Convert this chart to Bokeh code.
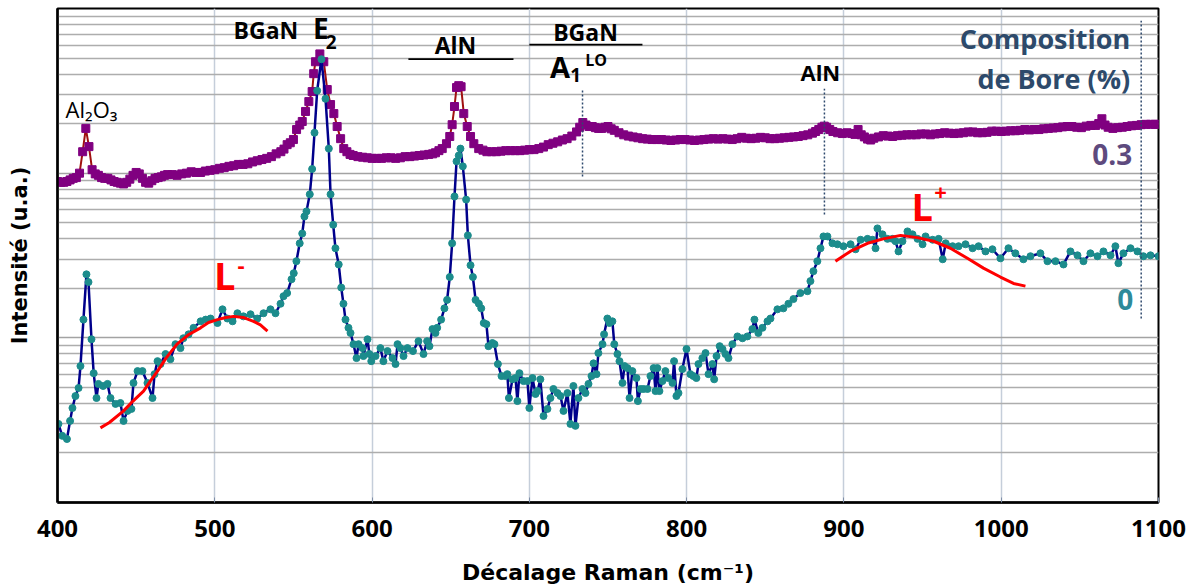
from bokeh.plotting import figure
from bokeh.models import Range1d, FixedTicker, Label
from bokeh.embed import file_html
from bokeh.resources import INLINE

# ---------------- data ----------------
# Sample with 0.3 % boron (purple squares)
shift_03 = [400, 402, 404, 406, 408, 410, 412, 414, 416, 418, 420, 422, 424, 426, 428, 430, 432, 434, 436, 438,
            440, 442, 444, 446, 448, 450, 452, 454, 456, 458, 460, 462, 464, 466, 468, 470, 473, 476, 479, 482,
            485, 488, 491, 494, 497, 500, 503, 506, 509, 512, 515, 518, 521, 524, 527, 530, 533, 536, 539, 542,
            544, 546, 548, 550, 552, 554, 555.6, 557.7, 559.8, 561.9, 562.9, 564, 566.8, 569.3, 571.5, 573.6,
            575.7, 577.8, 580, 582, 584, 586, 588, 591, 594, 597, 600, 603, 606, 609, 612, 615, 618, 621, 624,
            627, 630, 633, 636, 638.5, 640.3, 642.5, 644.6, 647.3, 649.4, 650.9, 652.4, 653.7, 655.1, 656.6,
            658.3, 660.5, 662.6, 664.7, 667.8, 670.5, 673, 676, 679, 682, 685, 688, 691, 694, 697, 700, 703,
            706, 709, 712, 715, 718, 721, 724, 727, 730, 732, 734, 736, 738, 740, 742, 744, 746, 748, 750, 752,
            754, 757, 760, 763, 766, 769, 772, 775, 778, 781, 784, 787, 790, 793, 796, 799, 802, 805, 808, 811,
            814, 817, 820, 823, 826, 829, 832, 835, 838, 841, 844, 847, 850, 853, 856, 859, 862, 865, 868, 871,
            874, 877, 880, 882, 884, 886, 887.5, 889, 891, 893, 896, 899, 902, 905, 907, 909, 911, 913, 915, 917,
            919, 922, 925, 928, 931, 934, 937, 940, 943, 946, 949, 952, 955, 958, 961, 964, 967, 970, 973, 976,
            979, 982, 985, 988, 991, 994, 997, 1000, 1003, 1006, 1009, 1012, 1015, 1018, 1021, 1024, 1027, 1030,
            1033, 1036, 1039, 1042, 1045, 1048, 1051, 1054, 1057, 1060, 1062, 1064, 1066, 1068, 1071, 1074, 1077,
            1080, 1083, 1086, 1089, 1092, 1095, 1098, 1100]
int_03 = [89, 88, 88, 89, 91, 93, 94, 100, 135, 187, 145, 105, 99, 97, 94, 93, 93, 91, 89, 88,
          87, 86, 88, 92, 97, 101, 99, 93, 88, 87, 90, 93, 94, 95, 97, 98, 98, 97, 99, 100,
          102, 101, 101, 103, 104, 105, 107, 108, 110, 111, 113, 113, 114, 117, 119, 121, 123, 126, 131, 135,
          140, 149, 153, 160, 184, 196, 206, 237, 272, 313, 402, 475, 530, 475, 322, 261,
          230, 192, 162, 141, 135, 130, 128, 126, 125, 124, 123, 123, 123, 124, 124, 123, 124, 126, 126,
          127, 128, 129, 130, 131, 133, 137, 141, 151, 167, 197, 254, 331, 340, 335,
          230, 192, 167, 151, 141, 138, 135, 135, 135, 136, 137, 137, 137, 137, 138, 139, 139,
          141, 144, 149, 152, 155, 159, 162, 168, 178, 190, 203, 196, 192, 192, 189, 187, 187, 190, 192, 186,
          182, 176, 171, 168, 166, 164, 162, 161, 160, 160, 160, 159, 158, 159, 160, 160, 159, 158, 159, 160,
          161, 162, 161, 162, 161, 160, 162, 165, 163, 162, 163, 165, 164, 162, 162, 163, 164, 165, 166, 167,
          169, 171, 175, 179, 184, 190, 193, 190, 184, 179, 176, 174, 176, 174, 172, 184, 171, 166, 161, 159,
          163, 166, 169, 168, 167, 169, 170, 171, 171, 171, 173, 173, 171, 173, 174, 176, 175, 174, 175, 176,
          178, 178, 176, 176, 177, 180, 180, 179, 180, 181, 181, 182, 184, 183, 184, 184, 186, 187,
          188, 189, 191, 192, 192, 190, 189, 193, 195, 195, 200, 214, 196, 190, 187, 189, 190,
          192, 194, 195, 197, 198, 198, 198, 198]

# Reference sample, 0 % boron (teal dots)
shift_0 = [400.6, 403, 406, 408, 409.5, 411.4, 413.4, 414.6, 416.5, 418.4, 419.7, 421.6, 423, 424.8, 426, 429,
           431.8, 433.7, 436.9, 440, 442, 444.5, 447, 448.3, 450.9, 454, 457.2, 460.4, 461.7, 463.6, 465.5,
           468.7, 471.8, 475, 478.2, 480, 483.3, 486.5, 491, 494.2, 497.3, 501.7, 504.9, 508, 511.3, 514.4,
           518.2, 522.7, 527, 531, 535.4, 538.6, 541.8, 543.7, 546, 548.8, 550.2, 551.9, 554, 555.6, 557,
           558.3, 560.4, 561.9, 563.4, 565.1, 567.8, 570.4, 572.5, 573.6, 575.3, 576.7, 578.8, 580.4, 581.8,
           583.1, 585, 586.3, 588.2, 590.1, 591.4, 593.9, 594.5, 597.1, 598.3, 599.5, 602.2, 605.3, 607.2,
           609.8, 613, 614.9, 616.2, 618, 620, 622.5, 626, 629.5, 632.7, 635, 636.5, 638.4, 640.3, 641.4,
           643.9, 646, 647.7, 649.4, 650.9, 652.4, 653.7, 655.1, 656.2, 657.7, 659.8, 660.9, 662.6, 664.1,
           665.8, 667.9, 669.4, 671, 672.7, 674, 676.5, 677.8, 680, 682.3, 684.8, 686, 687, 689.3, 691.2,
           692.4, 693.7, 696.3, 698.8, 700, 702, 703.9, 705.2, 707, 709, 711.5, 713.4, 715.3, 717.9, 719.8,
           721.7, 724.2, 726.1, 728, 729.3, 731.2, 733.8, 735.7, 737.6, 739.5, 740.8, 742.7, 743.9, 746.5,
           747.5, 749.6, 750.9, 752.8, 754, 756, 757.3, 759.2, 760.5, 762.4, 763.7, 765.5, 768.1, 769, 770.7,
           772.6, 775.1, 777, 779, 780.2, 781.4, 782.7, 784.6, 786.5, 788.4, 791, 792, 793.5, 794.8, 797.3,
           799.9, 802.4, 804.3, 806.2, 807.5, 810, 812, 813.9, 816.4, 817.5, 819, 821, 822.8, 824.7, 826.6,
           829.1, 832.3, 835.5, 838.6, 841.8, 843.1, 845.6, 848.2, 851.4, 853.3, 857.7, 861.5, 864.7, 867.9,
           872.3, 876.8, 878.7, 880.6, 883.1, 885.1, 887, 889.5, 892.7, 895.9, 899.7, 904.2, 907.4, 910.6,
           915, 918.2, 920.1, 921.3, 924.5, 927.7, 930.9, 932.8, 934.7, 937.2, 940.4, 943.6, 946.8, 950,
           951.9, 956.4, 960.2, 962.8, 964.7, 969.1, 972.9, 977.3, 981.8, 985.6, 990, 994.4, 999.5, 1004.6,
           1009, 1014.1, 1018.6, 1024.9, 1029.4, 1034.5, 1039.6, 1044, 1048.5, 1052.3, 1056.7, 1061.2, 1065,
           1069.5, 1072.6, 1074.5, 1077.7, 1082.2, 1086.6, 1090.4, 1094.9, 1100]
int_0 = [3.0, 2.54, 2.43, 3.13, 3.75, 4.43, 4.96, 6.74, 12.9, 24.3, 21.8, 9.8, 6.1, 4.31, 5.25, 5.10,
         5.25, 4.31, 3.97, 4.02, 3.13, 3.60, 3.70, 5.32, 6.28, 6.28, 5.32, 4.31, 6.02, 7.22, 6.93,
         7.97, 7.42, 9.15, 8.66, 9.94, 10.5, 11.5, 12.6, 12.9, 13.1, 12.3, 14.9, 13.1, 12.6, 14.1,
         13.5, 13.9, 13.1, 14.1, 14.9, 14.1, 16.1, 17.9, 18.7, 22.7, 24.7, 29.2, 37.5, 43.0, 54.6,
         58.6, 74.4, 106, 176, 317, 492, 283, 141, 74.4, 48.6, 35.0, 27.9, 20.2, 16.1,
         12.9, 11.5, 10.7, 9.15, 7.53, 9.15, 8.66, 7.75, 9.8, 7.97, 7.22, 7.75, 8.66, 7.22,
         8.31, 7.53, 6.93, 9.15, 8.66, 7.75, 8.66, 8.31, 9.55, 7.97, 9.55, 8.90, 11.3, 10.7, 11.5,
         12.9, 15.1, 17.0, 23.4, 37.5, 72.2, 118, 128, 141, 110, 69.1, 41.9, 27.6, 23.4,
         17.0, 16.1, 15.1, 12.3, 12.1, 8.90, 9.3, 9.15, 6.93, 5.86, 5.86, 6.02, 4.31, 5.6, 5.7,
         4.13, 6.1, 5.46, 5.46, 3.75, 5.7, 4.56, 4.75, 5.6, 3.35, 3.7, 4.31, 4.89, 4.62, 4.43,
         3.6, 4.62, 3.0, 5.1, 2.92, 4.31, 4.89, 4.62, 5.25, 5.86, 7.0, 6.02, 8.08, 9.15,
         10.5, 13.1, 12.3, 12.6, 9.15, 7.97, 7.22, 5.32, 6.74, 6.55, 4.31, 6.28, 5.7, 4.13, 4.89,
         4.89, 4.89, 5.86, 6.55, 4.75, 6.55, 4.75, 5.46, 6.28, 5.7, 5.32, 7.22, 4.43, 4.62, 6.46,
         8.55, 6.02, 5.86, 5.7, 6.93, 7.53, 8.08, 6.02, 6.93, 5.6, 7.75, 8.90, 8.55, 7.97, 7.53,
         9.15, 10.2, 9.94, 10.2, 11.3, 12.9, 10.7, 11.5, 12.6, 13.1, 14.9, 15.1, 16.1, 17.2,
         18.7, 19.2, 22.1, 25.4, 29.2, 35.0, 41.3, 41.3, 37.5, 37.0, 36.0, 37.0, 34.5, 39.4,
         39.9, 39.4, 35.0, 46.2, 42.5, 39.9, 39.9, 38.6, 33.5, 38.6, 44.3, 42.5, 39.9, 37.0,
         41.3, 39.4, 39.9, 30.0, 37.5, 36.0, 36.0, 37.0, 35.0, 36.0, 33.5, 34.5, 30.4, 35.0,
         32.6, 30.0, 31.3, 32.6, 29.2, 29.2, 27.9, 33.5, 31.7, 29.2, 32.6, 31.3, 33.5,
         31.7, 36.0, 28.4, 32.6, 35.0, 33.5, 31.3, 31.7, 31.3]

# Red fitted bands L- and L+
fit_lminus_x = [427.3, 433, 442, 448, 454.7, 459, 463.6, 469, 476, 483, 491, 496, 501.7, 507, 512, 518, 524.6, 529, 533.5]
fit_lminus_y = [2.84, 3.06, 3.6, 4.13, 4.75, 5.46, 6.28, 7.53, 9.15, 10.4, 11.5, 12.4, 12.9, 13.3, 13.5, 13.3, 12.6, 12.0, 11.0]
fit_lplus_x = [894.6, 904, 915, 925, 936, 946.7, 957, 967.7, 978.5, 988.7, 999.5, 1007.8, 1015.4]
fit_lplus_y = [29.2, 33.5, 37.5, 39.9, 41.9, 40.6, 38.6, 35.0, 30.4, 26.5, 23.4, 21.4, 20.6]

# Dotted peak markers (x position, bottom, top)
mark_x = [733.8, 887.6, 1089]
mark_lo = [95.5, 56.2, 13.1]
mark_hi = [322, 326, 842]

# Label underlines (AlN, BGaN)
bar_x0 = [623.1, 700.0]
bar_x1 = [689.9, 771.9]
bar_y = [492, 603]

x_ticks = [400, 500, 600, 700, 800, 900, 1000, 1100]

# ---------------- figure ----------------
p = figure(width=1186, height=588, x_range=Range1d(400, 1100), y_range=Range1d(1, 1000),
           y_axis_type="log", output_backend="svg", toolbar_location=None,
           min_border_left=57, min_border_right=28, min_border_top=8, min_border_bottom=86)

p.outline_line_color = "black"
p.outline_line_width = 2
p.background_fill_color = "white"
p.border_fill_color = "white"

xt = FixedTicker(ticks=x_ticks)
p.xaxis.ticker = xt
p.xgrid.ticker = xt
decades = [1, 10, 100, 1000]
minors = [m * d for d in [1, 10, 100] for m in range(2, 10)]
yt = FixedTicker(ticks=decades, minor_ticks=minors)
p.yaxis.ticker = yt
p.ygrid.ticker = yt

p.xgrid.grid_line_color = "#C5CEDA"
p.xgrid.grid_line_width = 1.5
p.ygrid.grid_line_color = "#A3A3A3"
p.ygrid.grid_line_width = 1.6
p.ygrid.minor_grid_line_color = "#ADADAD"
p.ygrid.minor_grid_line_width = 1.6

p.xaxis.axis_line_width = 2.5
p.xaxis.axis_line_color = "black"
p.xaxis.major_tick_in = 5
p.xaxis.major_tick_out = 0
p.xaxis.major_tick_line_color = "#7F8FA8"
p.xaxis.minor_tick_line_color = None
p.xaxis.major_label_text_font = "Open Sans"
p.xaxis.major_label_text_font_style = "bold"
p.xaxis.major_label_text_font_size = "24px"
p.xaxis.major_label_text_color = "black"
p.xaxis.major_label_standoff = 17
p.xaxis.axis_label = "Décalage Raman (cm⁻¹)"
p.xaxis.axis_label_text_font = "DejaVu Sans"
p.xaxis.axis_label_text_font_style = "bold"
p.xaxis.axis_label_text_font_size = "22px"
p.xaxis.axis_label_text_color = "black"
p.xaxis.axis_label_standoff = 20

p.yaxis.axis_line_width = 2.5
p.yaxis.axis_line_color = "black"
p.yaxis.major_tick_line_color = None
p.yaxis.minor_tick_line_color = None
p.yaxis.major_tick_in = 0
p.yaxis.major_tick_out = 0
p.yaxis.major_label_text_font_size = "2px"
p.yaxis.major_label_text_alpha = 0
p.yaxis.major_label_standoff = 0
p.yaxis.axis_label = "Intensité (u.a.)"
p.yaxis.axis_label_text_font = "DejaVu Sans"
p.yaxis.axis_label_text_font_style = "bold"
p.yaxis.axis_label_text_font_size = "21px"
p.yaxis.axis_label_text_color = "black"
p.yaxis.axis_label_standoff = 22

# ---------------- series ----------------
p.line(shift_03, int_03, line_color="#A01010", line_width=2)
p.scatter(shift_03, int_03, marker="square", size=8, fill_color="#800080", line_color="#800080")

p.line(shift_0, int_0, line_color="#00008B", line_width=2.5)
p.scatter(shift_0, int_0, marker="circle", size=7, fill_color="#1C8C8C", line_color="#1C8C8C")

p.line(fit_lminus_x, fit_lminus_y, line_color="#FF0000", line_width=3)
p.line(fit_lplus_x, fit_lplus_y, line_color="#FF0000", line_width=3)

p.segment(x0=mark_x, y0=mark_lo, x1=mark_x, y1=mark_hi, line_color="#2F4A6E",
          line_width=1.5, line_dash="2 2")
p.segment(x0=bar_x0, y0=bar_y, x1=bar_x1, y1=bar_y, line_color="black", line_width=1.8)

# ---------------- annotations ----------------
def lab(x, y, text, size, color="black", bold=True, align="center", font="Open Sans", base="middle"):
    p.add_layout(Label(x=x, y=y, text=text, text_font=font, text_font_size=size,
                       text_font_style="bold" if bold else "normal", text_color=color,
                       text_align=align, text_baseline=base))

lab(421.6, 247, "Al₂O₃", "22px", bold=False)
lab(532.5, 743, "BGaN", "23px")
lab(562.5, 760, "E", "28px", align="left")
lab(570.5, 630, "2", "19px", align="left")
lab(653, 602, "AlN", "23px")
lab(735.7, 722, "BGaN", "23px")
lab(719.5, 443, "A", "29px", align="center")
lab(729.5, 397, "1", "19px", align="center")
lab(742.5, 485, "LO", "16px", align="center")
lab(885, 413, "AlN", "22px")
lab(1082, 655, "Composition", "27px", color="#2D4A6B", align="right")
lab(1082, 375, "de Bore (%)", "27px", color="#2D4A6B", align="right")
lab(1083.3, 130, "0.3", "28px", color="#5E4A7E", align="right")
lab(1084, 17.2, "0", "28px", color="#2E8A9A", align="right")
lab(499.5, 24.0, "L", "38px", color="#FF0000", align="left")
lab(514.5, 27.5, "-", "22px", color="#FF0000", align="left")
lab(943, 62.8, "L", "38px", color="#FF0000", align="left")
lab(957.5, 76, "+", "22px", color="#FF0000", align="left")

open("out.html", "w").write(file_html(p, INLINE))
